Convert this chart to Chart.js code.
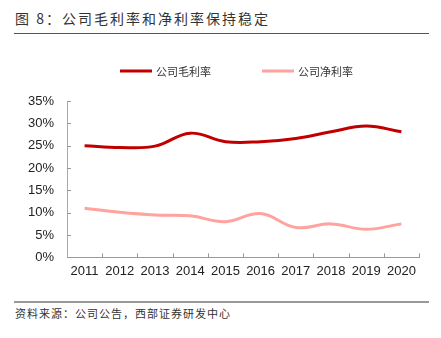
<!DOCTYPE html>
<html>
<head>
<meta charset="utf-8">
<script src="https://cdn.jsdelivr.net/npm/chart.js@4"></script>
<style>
  body { margin: 0; width: 441px; height: 338px; background: #fff; position: relative; overflow: hidden;
         font-family: "Noto Sans CJK SC", sans-serif; }
  #title { position: absolute; left: 15px; top: 8px; font-size: 14px; letter-spacing: 2px; color: #333; }
  #rule1 { position: absolute; left: 14px; top: 33px; width: 415px; height: 1px; background: #555; }
  #rule2 { position: absolute; left: 14px; top: 301px; width: 415px; height: 2px; background: #999; }
  #source { position: absolute; left: 15px; top: 305px; font-size: 11px; letter-spacing: 1px; color: #333; }
  #box { position: absolute; left: 0; top: 40px; width: 441px; height: 245px; }
</style>
</head>
<body>
<div id="title">图 8：公司毛利率和净利率保持稳定</div>
<div id="rule1"></div>
<div id="box"><canvas id="margin-chart"></canvas></div>
<div id="rule2"></div>
<div id="source">资料来源：公司公告，西部证券研发中心</div>
<script>
var years = ['2011', '2012', '2013', '2014', '2015', '2016', '2017', '2018', '2019', '2020'];
var grossMargin = [25.0, 24.6, 24.9, 27.8, 25.9, 25.9, 26.6, 28.1, 29.4, 28.1];
var netMargin = [11.0, 10.1, 9.5, 9.3, 8.0, 9.8, 6.7, 7.5, 6.3, 7.5];
var seriesNames = ['公司毛利率', '公司净利率'];

// small tick marks pointing into the plot, like the original
var innerTicks = {
  id: 'innerTicks',
  afterDraw: function(chart) {
    var c = chart.ctx, x = chart.scales.x, y = chart.scales.y;
    c.save();
    c.strokeStyle = '#999';
    c.lineWidth = 1;
    var step = x.width / years.length;
    for (var i = 1; i <= years.length; i++) {
      var px = Math.round(x.left + i * step) + 0.5;
      c.beginPath(); c.moveTo(px, x.top); c.lineTo(px, x.top - 4); c.stroke();
    }
    y.ticks.forEach(function(t) {
      var py = Math.round(y.getPixelForValue(t.value)) + 0.5;
      c.beginPath(); c.moveTo(y.right, py); c.lineTo(y.right + 4, py); c.stroke();
    });
    c.restore();
  }
};

// legend drawn by hand so the spacing matches the original
var lineLegend = {
  id: 'lineLegend',
  afterDraw: function(chart) {
    var c = chart.ctx;
    var sets = chart.data.datasets;
    var boxW = 32, gapText = 4, gapItem = 51, y = 31;
    c.save();
    c.font = '11px "Noto Sans CJK SC"';
    c.textBaseline = 'middle';
    var widths = sets.map(function(d) { return boxW + gapText + c.measureText(d.label).width; });
    var total = widths.reduce(function(a, b) { return a + b; }, 0) + gapItem * (sets.length - 1);
    var x = 236.5 - total / 2;
    sets.forEach(function(d, i) {
      c.fillStyle = d.borderColor;
      c.fillRect(x, y - 1.5, boxW, 3);
      c.fillStyle = '#333';
      c.fillText(d.label, x + boxW + gapText, y + 1);
      x += widths[i] + gapItem;
    });
    c.restore();
  }
};

var ctx = document.getElementById('margin-chart');
var myChart = new Chart(ctx, {
  type: 'line',
  data: {
    labels: years,
    datasets: [{
      label: seriesNames[0],
      data: grossMargin,
      borderColor: '#C00000',
      backgroundColor: '#C00000',
      borderWidth: 3,
      tension: 0.4,
      pointRadius: 0
    }, {
      label: seriesNames[1],
      data: netMargin,
      borderColor: '#FFA39E',
      backgroundColor: '#FFA39E',
      borderWidth: 3,
      tension: 0.4,
      pointRadius: 0
    }]
  },
  options: {
    responsive: true,
    maintainAspectRatio: false,
    animation: false,
    layout: { padding: { left: 27, right: 22, top: 61, bottom: 0 } },
    plugins: {
      legend: { display: false },
      tooltip: { enabled: false }
    },
    scales: {
      x: {
        offset: true,
        grid: { display: false, drawTicks: false },
        border: { color: '#999' },
        ticks: { color: '#222', padding: 6, maxRotation: 0, font: { family: 'Liberation Sans', size: 13 } }
      },
      y: {
        min: 0,
        max: 35,
        afterFit: function(scale) { scale.width = 40; },
        grid: { display: false, drawTicks: false },
        border: { color: '#aaa' },
        ticks: {
          stepSize: 5,
          padding: 13,
          color: '#222',
          font: { family: 'Liberation Sans', size: 13 },
          callback: function(v) { return v + '%'; }
        }
      }
    }
  },
  plugins: [innerTicks, lineLegend]
});
</script>
</body>
</html>
